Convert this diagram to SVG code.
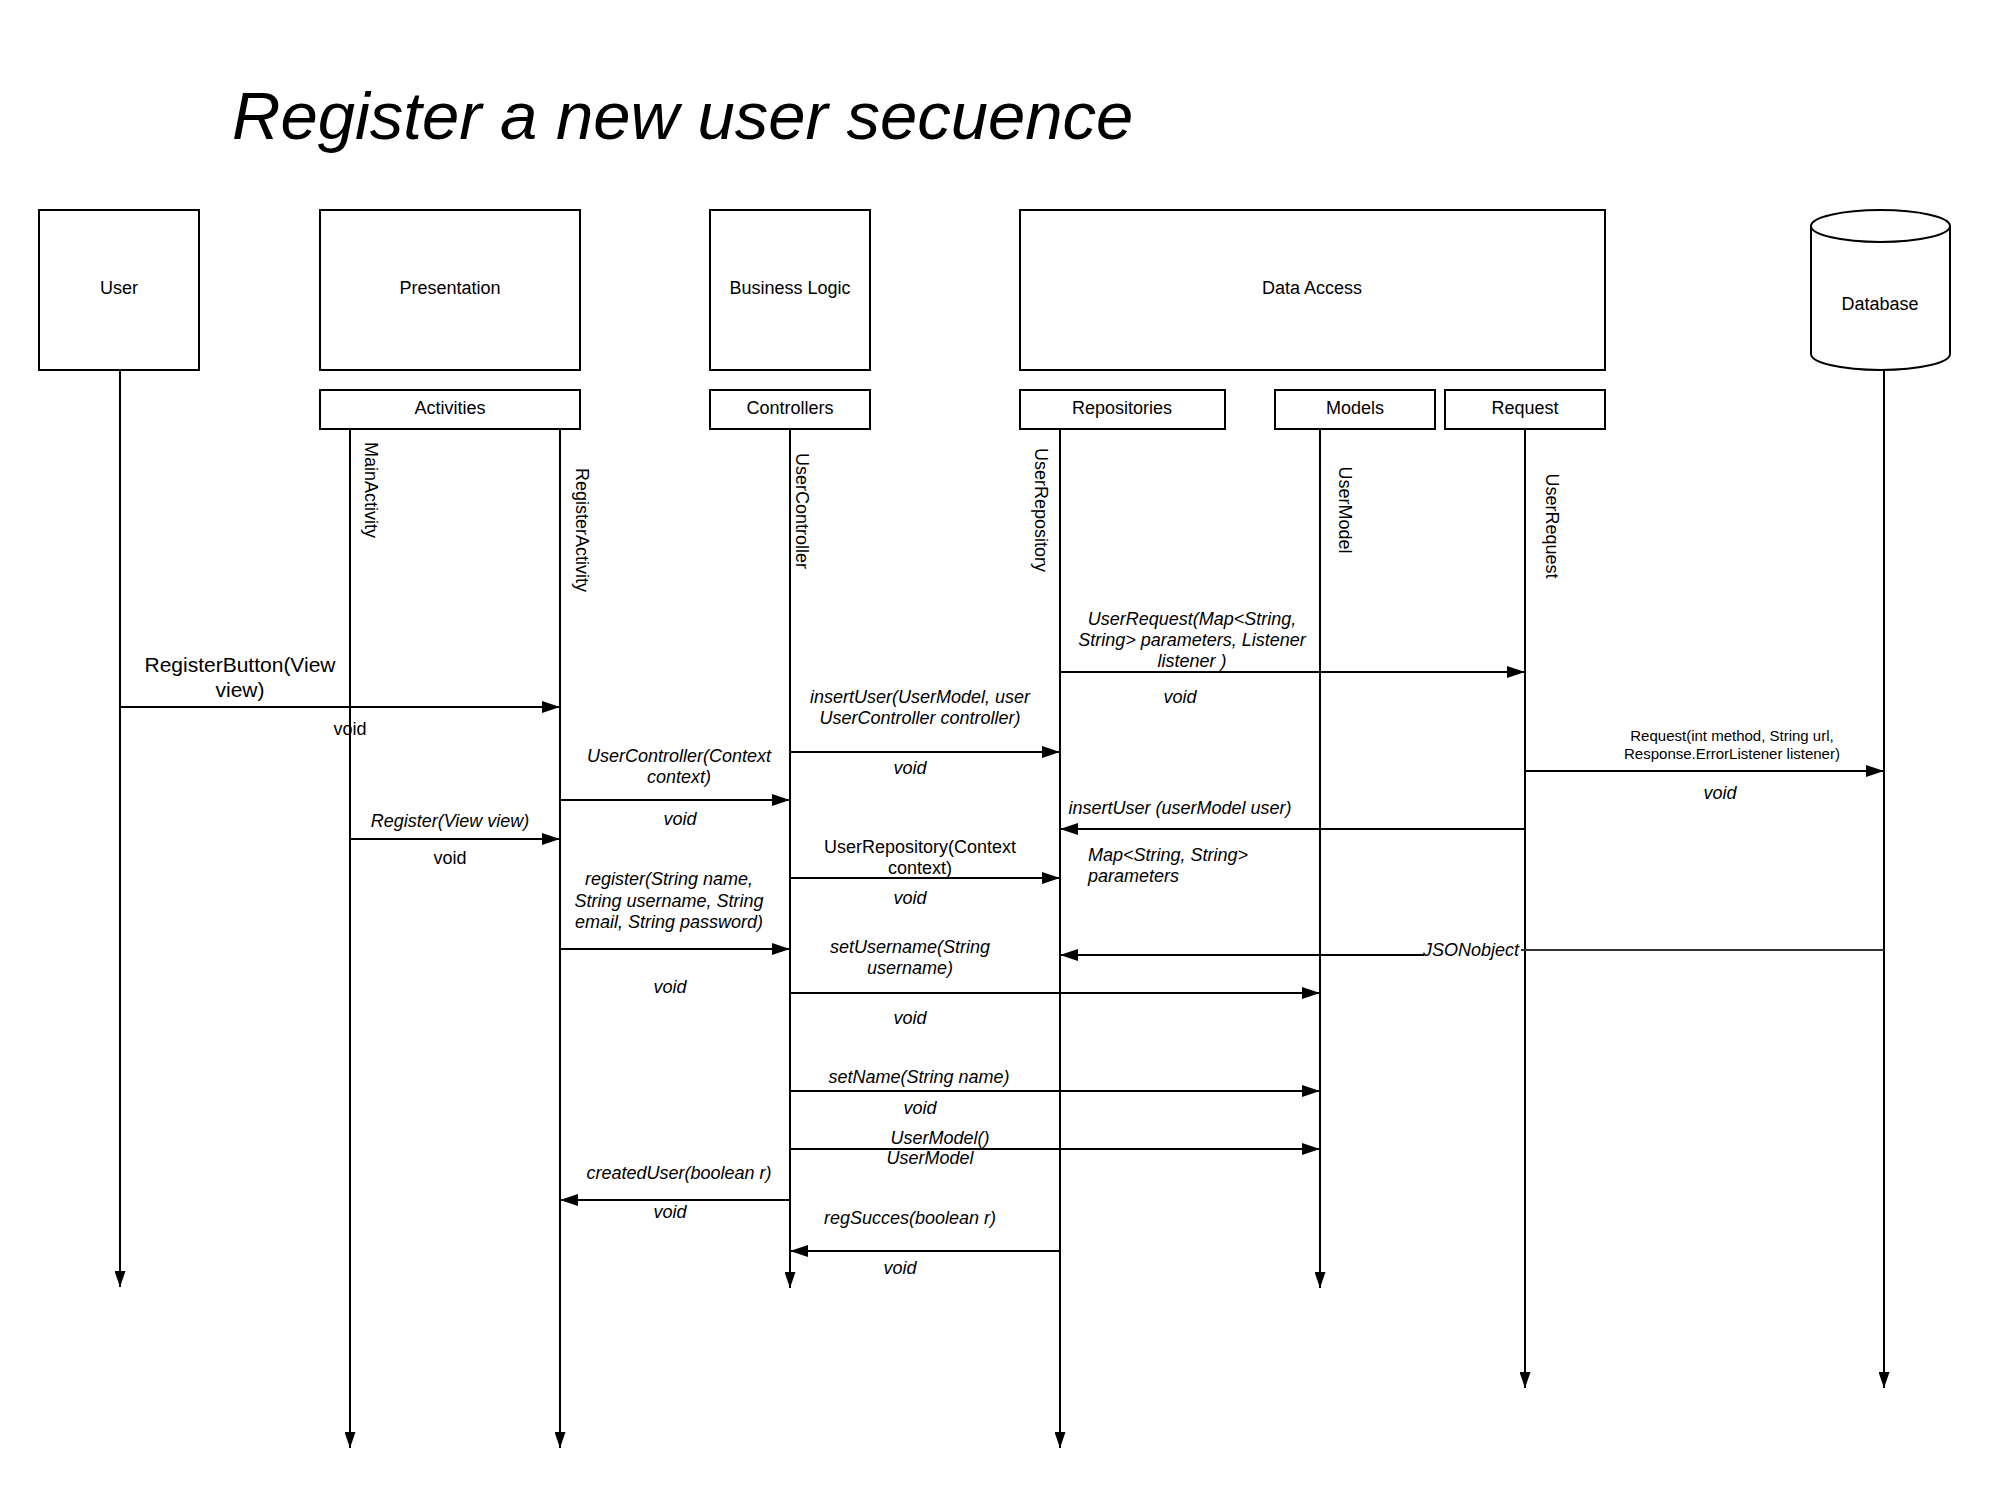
<svg xmlns="http://www.w3.org/2000/svg" width="1991" height="1487" viewBox="0 0 1991 1487">
<defs>
<style>
text{font-family:"Liberation Sans",Arial,sans-serif;fill:#000}
.t18{font-size:18px}
.c{text-anchor:middle}
.i{font-style:italic}
.box{fill:#fff;stroke:#000;stroke-width:2}
.ln{fill:none;stroke:#000;stroke-width:2}
.life{fill:none;stroke:#000;stroke-width:2;marker-end:url(#la)}
.msg{fill:none;stroke:#000;stroke-width:2;marker-end:url(#ma)}
.vl{font-size:18px;text-anchor:middle;dominant-baseline:central}
</style>
<marker id="ma" markerUnits="userSpaceOnUse" markerWidth="18" markerHeight="12" refX="18" refY="6" orient="auto"><path d="M0,0 L18,6 L0,12 z" fill="#000"/></marker>
<marker id="la" markerUnits="userSpaceOnUse" markerWidth="16" markerHeight="11" refX="16" refY="5.5" orient="auto"><path d="M0,0 L16,5.5 L0,11 z" fill="#000"/></marker>
</defs>
<rect width="1991" height="1487" fill="#fff"/>
<text x="232" y="139" class="i" style="font-size:67px">Register a new user secuence</text>

<g id="node-user"><rect class="box" x="39" y="210" width="160" height="160"/><text class="t18 c" x="119" y="294">User</text></g>
<g id="node-presentation"><rect class="box" x="320" y="210" width="260" height="160"/><text class="t18 c" x="450" y="294">Presentation</text></g>
<g id="node-business"><rect class="box" x="710" y="210" width="160" height="160"/><text class="t18 c" x="790" y="294">Business Logic</text></g>
<g id="node-data"><rect class="box" x="1020" y="210" width="585" height="160"/><text class="t18 c" x="1312" y="294">Data Access</text></g>
<g id="node-database"><path class="box" d="M1811,226 A69.5,16 0 0 1 1950,226 V354 A69.5,16 0 0 1 1811,354 Z"/><path class="ln" d="M1811,226 A69.5,16 0 0 0 1950,226"/><text class="t18 c" x="1880" y="310">Database</text></g>
<g id="node-activities"><rect class="box" x="320" y="390" width="260" height="39"/><text class="t18 c" x="450" y="414">Activities</text></g>
<g id="node-controllers"><rect class="box" x="710" y="390" width="160" height="39"/><text class="t18 c" x="790" y="414">Controllers</text></g>
<g id="node-repositories"><rect class="box" x="1020" y="390" width="205" height="39"/><text class="t18 c" x="1122" y="414">Repositories</text></g>
<g id="node-models"><rect class="box" x="1275" y="390" width="160" height="39"/><text class="t18 c" x="1355" y="414">Models</text></g>
<g id="node-request"><rect class="box" x="1445" y="390" width="160" height="39"/><text class="t18 c" x="1525" y="414">Request</text></g>

<g id="lifeline-labels">
<text class="vl" transform="translate(371,490) rotate(90)">MainActivity</text>
<text class="vl" transform="translate(582,530) rotate(90)">RegisterActivity</text>
<text class="vl" transform="translate(802,511) rotate(90)">UserController</text>
<text class="vl" transform="translate(1041,510) rotate(90)">UserRepository</text>
<text class="vl" transform="translate(1345,510) rotate(90)">UserModel</text>
<text class="vl" transform="translate(1552,526) rotate(90)">UserRequest</text>
</g>

<g id="connectors">
<path class="life" d="M120,370 V1287"/>
<path class="life" d="M350,429 V1448"/>
<path class="life" d="M560,429 V1448"/>
<path class="life" d="M790,429 V1288"/>
<path class="life" d="M1060,429 V1448"/>
<path class="life" d="M1320,429 V1288"/>
<path class="life" d="M1525,429 V1388"/>
<path class="life" d="M1884,370 V1388"/>

<path class="msg" d="M120,707 H560"/>
<path class="msg" d="M560,800 H790"/>
<path class="msg" d="M350,839 H560"/>
<path class="msg" d="M560,949 H790"/>
<path class="msg" d="M790,752 H1060"/>
<path class="msg" d="M790,878 H1060"/>
<path class="msg" d="M1060,672 H1525"/>
<path class="msg" d="M1525,771 H1884"/>
<path class="msg" d="M1525,829 H1060"/>
<path class="ln" d="M1884,950 H1521" style="stroke:#333"/>
<path class="msg" d="M1424,955 H1060"/>
<path class="msg" d="M790,993 H1320"/>
<path class="msg" d="M790,1091 H1320"/>
<path class="msg" d="M790,1149 H1320"/>
<path class="msg" d="M790,1200 H560"/>
<path class="msg" d="M1060,1251 H790"/>
</g>

<g id="message-labels">
<text class="c" style="font-size:21px" x="240" y="672">RegisterButton(View</text>
<text class="c" style="font-size:21px" x="240" y="697">view)</text>
<text class="t18 c" x="350" y="735">void</text>

<text class="t18 c i" x="679" y="762">UserController(Context</text>
<text class="t18 c i" x="679" y="783">context)</text>
<text class="t18 c i" x="680" y="825">void</text>

<text class="t18 c i" x="450" y="827">Register(View view)</text>
<text class="t18 c" x="450" y="864">void</text>

<text class="t18 c i" x="669" y="885">register(String name,</text>
<text class="t18 c i" x="669" y="907">String username, String</text>
<text class="t18 c i" x="669" y="928">email, String password)</text>
<text class="t18 c i" x="670" y="993">void</text>

<text class="t18 c i" x="920" y="703">insertUser(UserModel, user</text>
<text class="t18 c i" x="920" y="724">UserController controller)</text>
<text class="t18 c i" x="910" y="774">void</text>

<text class="t18 c" x="920" y="853">UserRepository(Context</text>
<text class="t18 c" x="920" y="874">context)</text>
<text class="t18 c i" x="910" y="904">void</text>

<text class="t18 c i" x="1192" y="625">UserRequest(Map&lt;String,</text>
<text class="t18 c i" x="1192" y="646">String&gt; parameters, Listener</text>
<text class="t18 c i" x="1192" y="667">listener )</text>
<text class="t18 c i" x="1180" y="703">void</text>

<text class="c" style="font-size:15px" x="1732" y="741">Request(int method, String url,</text>
<text class="c" style="font-size:15px" x="1732" y="759">Response.ErrorListener listener)</text>
<text class="t18 c i" x="1720" y="799">void</text>

<text class="t18 c i" x="1180" y="814">insertUser (userModel user)</text>
<text class="t18 i" x="1088" y="861">Map&lt;String, String&gt;</text>
<text class="t18 i" x="1088" y="882">parameters</text>

<text class="t18 c i" x="1471" y="956">JSONobject</text>

<text class="t18 c i" x="910" y="953">setUsername(String</text>
<text class="t18 c i" x="910" y="974">username)</text>
<text class="t18 c i" x="910" y="1024">void</text>

<text class="t18 c i" x="919" y="1083">setName(String name)</text>
<text class="t18 c i" x="920" y="1114">void</text>

<text class="t18 c i" x="940" y="1144">UserModel()</text>
<text class="t18 c i" x="930" y="1164">UserModel</text>

<text class="t18 c i" x="679" y="1179">createdUser(boolean r)</text>
<text class="t18 c i" x="670" y="1218">void</text>

<text class="t18 c i" x="910" y="1224">regSucces(boolean r)</text>
<text class="t18 c i" x="900" y="1274">void</text>
</g>
</svg>
